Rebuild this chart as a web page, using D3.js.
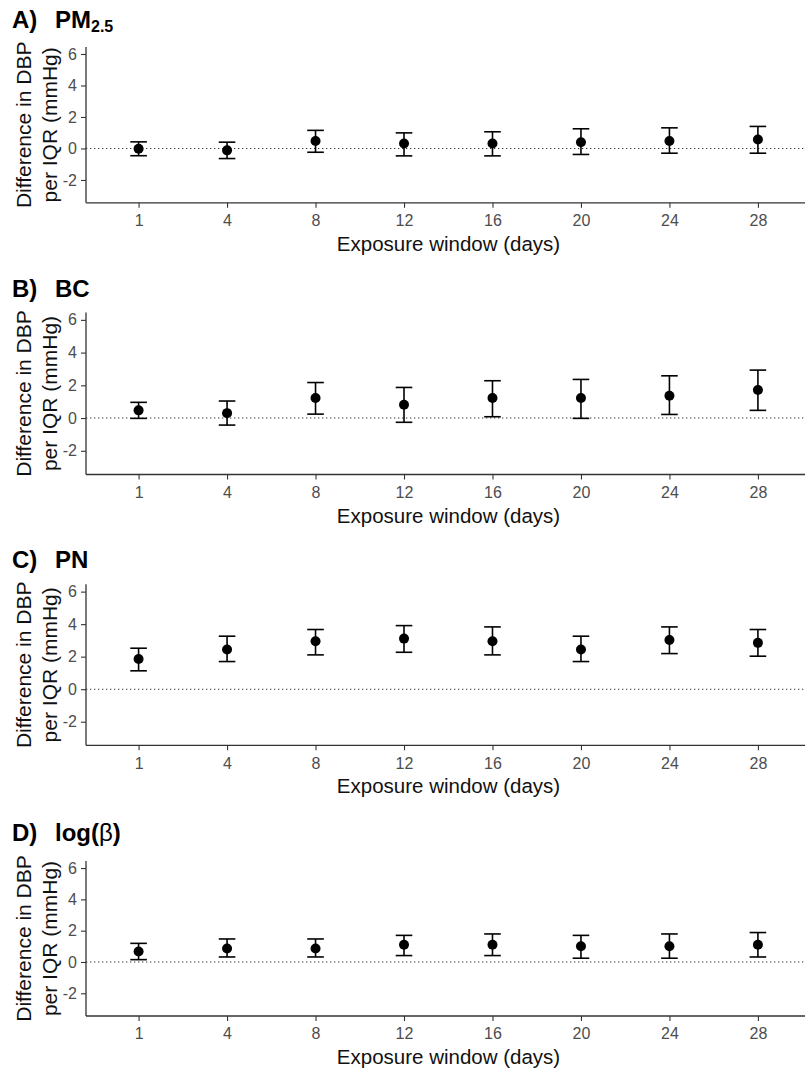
<!DOCTYPE html>
<html>
<head>
<meta charset="utf-8">
<script src="https://cdn.jsdelivr.net/npm/d3@7"></script>
<style>
  html, body { margin: 0; padding: 0; background: #fff; }
  svg { display: block; font-family: "Liberation Sans", Arial, sans-serif; }
</style>
</head>
<body>
<svg id="chart" width="805" height="1072"></svg>
<script>
// ---- data ----
const days = ["1", "4", "8", "12", "16", "20", "24", "28"];
const yTicks = [-2, 0, 2, 4, 6];
const panelTags = ["A)", "B)", "C)", "D)"];

const pm25Est   = [-0.02, -0.12, 0.48, 0.32, 0.32, 0.40, 0.48, 0.57];
const pm25Lower = [-0.46, -0.64, -0.24, -0.47, -0.47, -0.38, -0.30, -0.30];
const pm25Upper = [0.42, 0.40, 1.15, 0.99, 1.06, 1.25, 1.31, 1.40];

const bcEst   = [0.47, 0.30, 1.22, 0.81, 1.22, 1.22, 1.36, 1.71];
const bcLower = [-0.02, -0.43, 0.24, -0.26, 0.08, -0.02, 0.22, 0.47];
const bcUpper = [0.96, 1.04, 2.17, 1.87, 2.28, 2.36, 2.58, 2.93];

const pnEst   = [1.86, 2.44, 2.95, 3.11, 2.95, 2.44, 3.03, 2.85];
const pnLower = [1.13, 1.70, 2.11, 2.27, 2.11, 1.70, 2.19, 2.03];
const pnUpper = [2.52, 3.26, 3.67, 3.91, 3.83, 3.26, 3.83, 3.67];

const logbEst   = [0.67, 0.86, 0.86, 1.10, 1.10, 1.01, 1.01, 1.10];
const logbLower = [0.15, 0.32, 0.32, 0.41, 0.41, 0.24, 0.24, 0.32];
const logbUpper = [1.19, 1.47, 1.47, 1.70, 1.79, 1.70, 1.79, 1.88];

const seriesEst   = [pm25Est, bcEst, pnEst, logbEst];
const seriesLower = [pm25Lower, bcLower, pnLower, logbLower];
const seriesUpper = [pm25Upper, bcUpper, pnUpper, logbUpper];

// ---- layout ----
const panelTop    = [46.9, 312.5, 584.3, 861.0];
const panelBottom = [202.8, 474.5, 745.3, 1016.0];
const titleBase   = [28, 296.5, 568, 840.5];
const axisX = 86;

const svg = d3.select("#chart");
const x = d3.scalePoint().domain(days).range([85.5, 811]).padding(0.6);

function drawTitle(g, i, baseY) {
  g.append("text").attr("x", 12).attr("y", baseY)
    .attr("font-size", 24).attr("font-weight", "bold").attr("fill", "#000")
    .text(panelTags[i]);
  const t = g.append("text").attr("x", 55).attr("y", baseY)
    .attr("font-size", 24).attr("font-weight", "bold").attr("fill", "#000");
  if (i === 0) {
    t.append("tspan").text("PM");
    t.append("tspan").attr("font-size", 16).attr("dy", 4).text("2.5");
  } else if (i === 1) {
    t.text("BC");
  } else if (i === 2) {
    t.text("PN");
  } else {
    t.append("tspan").text("log(");
    t.append("tspan").attr("font-weight", "normal").text("\u03B2");
    t.append("tspan").text(")");
  }
}

for (let i = 0; i < 4; i++) {
  const g = svg.append("g");
  const y = d3.scaleLinear().domain([-3.45, 6.45]).range([panelBottom[i], panelTop[i]]);

  drawTitle(g, i, titleBase[i]);

  // reference line at 0
  g.append("line")
    .attr("x1", axisX).attr("x2", 805)
    .attr("y1", y(0)).attr("y2", y(0))
    .attr("stroke", "#333").attr("stroke-width", 1.1)
    .attr("stroke-dasharray", "1.3,2.7");

  // y axis
  const yAxis = g.append("g").attr("transform", `translate(${axisX},0)`)
    .call(d3.axisLeft(y).tickValues(yTicks).tickSize(5).tickPadding(4).tickFormat(d => String(d)));
  yAxis.select(".domain").remove();
  yAxis.selectAll(".tick line").attr("stroke", "#333").attr("stroke-width", 1.1);
  yAxis.selectAll(".tick text").attr("fill", "#4d4d4d").attr("font-size", 16)
    .attr("font-family", "Liberation Sans, Arial, sans-serif");
  g.append("line").attr("x1", axisX).attr("x2", axisX)
    .attr("y1", panelTop[i]).attr("y2", panelBottom[i])
    .attr("stroke", "#333").attr("stroke-width", 1.3);

  // x axis
  const xAxis = g.append("g").attr("transform", `translate(0,${panelBottom[i]})`)
    .call(d3.axisBottom(x).tickSize(5).tickPadding(7));
  xAxis.select(".domain").remove();
  xAxis.selectAll(".tick line").attr("stroke", "#333").attr("stroke-width", 1.1);
  xAxis.selectAll(".tick text").attr("fill", "#4d4d4d").attr("font-size", 16)
    .attr("font-family", "Liberation Sans, Arial, sans-serif");
  g.append("line").attr("x1", axisX).attr("x2", 805)
    .attr("y1", panelBottom[i]).attr("y2", panelBottom[i])
    .attr("stroke", "#333").attr("stroke-width", 1.3);

  // axis titles
  g.append("text")
    .attr("x", 448.5).attr("y", panelBottom[i] + 48)
    .attr("text-anchor", "middle").attr("font-size", 20.5).attr("fill", "#111")
    .text("Exposure window (days)");
  const cy = (panelTop[i] + panelBottom[i]) / 2;
  const yt = g.append("text")
    .attr("transform", `translate(0,${cy}) rotate(-90)`)
    .attr("text-anchor", "middle").attr("font-size", 21).attr("fill", "#111");
  yt.append("tspan").attr("x", 0).attr("y", 30.5).text("Difference in DBP");
  yt.append("tspan").attr("x", 0).attr("y", 56.5).text("per IQR (mmHg)");

  // error bars and points
  const data = days.map((d, k) => ({
    day: d, est: seriesEst[i][k], lo: seriesLower[i][k], hi: seriesUpper[i][k]
  }));
  const bars = g.append("g").attr("stroke", "#000").attr("stroke-width", 1.6).attr("fill", "none");
  const cap = 8.3;
  data.forEach(p => {
    const cx = x(p.day);
    bars.append("line").attr("x1", cx).attr("x2", cx).attr("y1", y(p.lo)).attr("y2", y(p.hi));
    bars.append("line").attr("x1", cx - cap).attr("x2", cx + cap).attr("y1", y(p.lo)).attr("y2", y(p.lo));
    bars.append("line").attr("x1", cx - cap).attr("x2", cx + cap).attr("y1", y(p.hi)).attr("y2", y(p.hi));
  });
  g.append("g").selectAll("circle").data(data).join("circle")
    .attr("cx", p => x(p.day)).attr("cy", p => y(p.est)).attr("r", 5)
    .attr("fill", "#000");
}
</script>
</body>
</html>
